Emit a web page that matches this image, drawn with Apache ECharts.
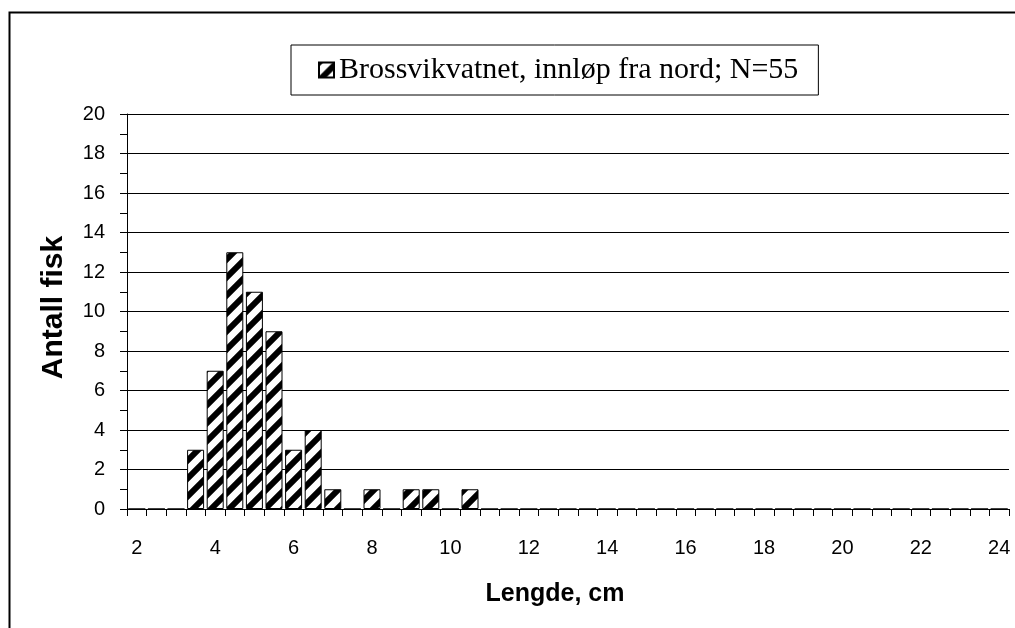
<!DOCTYPE html>
<html>
<head>
<meta charset="utf-8">
<script src="https://cdn.jsdelivr.net/npm/echarts@6/dist/echarts.min.js"></script>
<style>html,body{margin:0;padding:0;background:#fff}#c{width:1015px;height:628px}</style>
</head>
<body>
<div id="c"></div>
<script>
// Length classes (cm), 0.5 cm steps from 2 to 24
const lengths = ['2','2.5','3','3.5','4','4.5','5','5.5','6','6.5','7','7.5','8','8.5','9','9.5','10','10.5','11','11.5','12','12.5','13','13.5','14','14.5','15','15.5','16','16.5','17','17.5','18','18.5','19','19.5','20','20.5','21','21.5','22','22.5','23','23.5','24'];
// Number of fish per length class
const counts = [0,0,0,3,7,13,11,9,3,4,1,0,1,0,1,1,0,1,0,0,0,0,0,0,0,0,0,0,0,0,0,0,0,0,0,0,0,0,0,0,0,0,0,0,0];
const seriesName = 'Brossvikvatnet, innløp fra nord; N=55';
const yTitle = 'Antall fisk';
const xTitle = 'Lengde, cm';

function stripePattern(){
  const s = 18;
  const cv = document.createElement('canvas');
  cv.width = s; cv.height = s;
  const ctx = cv.getContext('2d');
  ctx.fillStyle = '#fff';
  ctx.fillRect(0,0,s,s);
  ctx.strokeStyle = '#000';
  ctx.lineWidth = 6;
  for (const c of [0, s, 2*s]) {
    ctx.beginPath();
    ctx.moveTo(c + s, -s);
    ctx.lineTo(c - 2*s, 2*s);
    ctx.stroke();
  }
  return cv;
}
const pat = {image: stripePattern(), repeat: 'repeat'};

const chart = echarts.init(document.getElementById('c'));
chart.setOption({
  animation: false,
  backgroundColor: '#fff',
  textStyle: {fontFamily: 'Liberation Sans'},
  graphic: [{
    type: 'rect', left: 7, top: 10, silent: true,
    shape: {x: 0, y: 0, width: 1030, height: 700},
    style: {fill: null, stroke: '#000', lineWidth: 2}
  }],
  legend: {
    left: 291, top: 45,
    padding: [10, 20, 10, 27],
    borderColor: '#000', borderWidth: 1,
    icon: 'rect',
    itemWidth: 15, itemHeight: 15,
    textStyle: {fontFamily: 'Liberation Serif', fontSize: 30, color: '#000', lineHeight: 30},
    data: [seriesName]
  },
  grid: {left: 127, right: 6, top: 114, bottom: 119},
  xAxis: {
    type: 'category',
    data: lengths,
    name: xTitle,
    nameLocation: 'middle',
    nameGap: 73,
    nameTextStyle: {fontSize: 25, fontWeight: 'bold', color: '#000', padding: [0, 26, 0, 0]},
    axisLine: {lineStyle: {color: '#000', width: 1}},
    axisTick: {show: true, interval: 0, length: 7, lineStyle: {color: '#000'}},
    axisLabel: {interval: 3, margin: 29, fontSize: 20, color: '#000'},
    splitLine: {show: false}
  },
  yAxis: {
    type: 'value',
    min: 0, max: 20, interval: 2,
    name: yTitle,
    nameLocation: 'middle',
    nameGap: 58,
    nameTextStyle: {fontSize: 30, fontWeight: 'bold', color: '#000', padding: [0, 0, 0, 8]},
    axisLine: {show: true, lineStyle: {color: '#000'}},
    axisTick: {show: true, length: 7, lineStyle: {color: '#000'}},
    minorTick: {show: true, splitNumber: 2, length: 7, lineStyle: {color: '#000'}},
    axisLabel: {margin: 22, fontSize: 20, color: '#000'},
    splitLine: {show: true, lineStyle: {color: '#000', width: 1}}
  },
  series: [{
    name: seriesName,
    type: 'bar',
    data: counts,
    barWidth: 17,
    itemStyle: {color: pat, borderColor: '#000', borderWidth: 1}
  }]
});
</script>
</body>
</html>
